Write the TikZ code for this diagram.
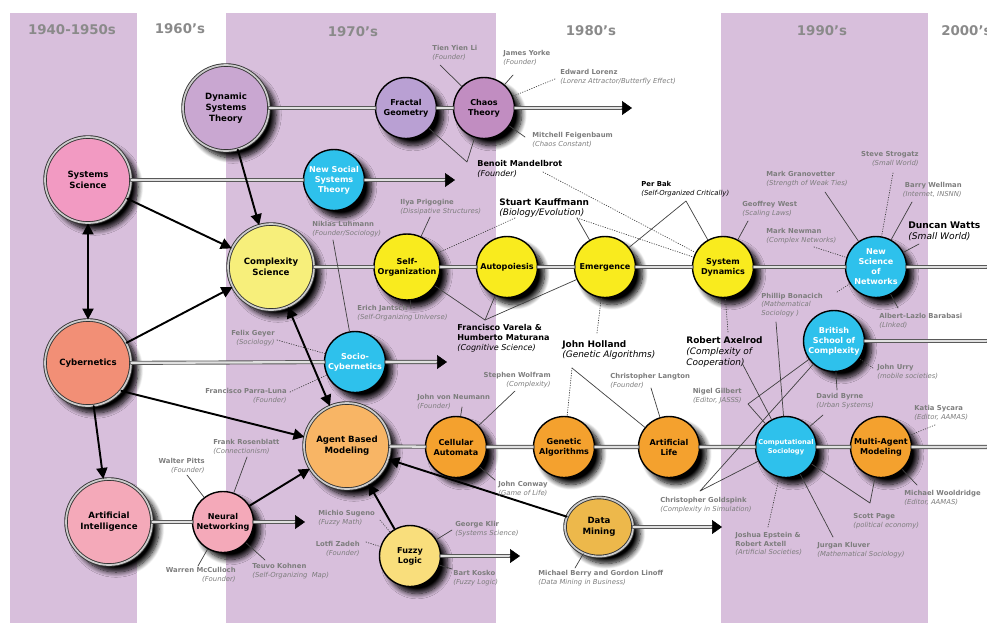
\documentclass[tikz,border=0pt]{standalone}
\usepackage{fontspec}
\setmainfont{DejaVu Sans}
\usepackage{tikz}
\usetikzlibrary{arrows.meta,shapes.geometric,shadows.blur}
\definecolor{band}{HTML}{D8BFDC}
\definecolor{yeargray}{HTML}{8A8A8A}
\definecolor{whogray}{HTML}{7D7D7D}
\definecolor{lilac}{HTML}{C9A7D1}
\definecolor{lavender}{HTML}{B9A0D3}
\definecolor{mauve}{HTML}{C18DC1}
\definecolor{rosepink}{HTML}{F29AC2}
\definecolor{salmon}{HTML}{F28F76}
\definecolor{softpink}{HTML}{F4A9B9}
\definecolor{paleyellow}{HTML}{F7EF7B}
\definecolor{lemon}{HTML}{F9EB1E}
\definecolor{skycyan}{HTML}{2EC1EC}
\definecolor{apricot}{HTML}{F8B565}
\definecolor{amber}{HTML}{F4A12E}
\definecolor{mustard}{HTML}{EDB84B}
\definecolor{sand}{HTML}{F9DE7C}
\newcommand{\pname}[2]{\textbf{#1}\\\textit{#2}}
\tikzset{
    every picture/.style={line cap=round,line join=round},
    smallnode/.style={circle,draw=black,line width=0.8pt,inner sep=0pt,align=center,
      minimum size=12.2mm,font=\fontsize{4.6}{5.7}\selectfont\bfseries,
      blur shadow={shadow xshift=4pt,shadow yshift=-4pt,shadow blur radius=3pt,
        shadow blur steps=10,shadow opacity=100}},
    bignode/.style={smallnode,minimum size=17.2mm,draw=black!80,line width=0.5pt,
      double=black!20,double distance=1pt,font=\fontsize{4.9}{6.1}\selectfont\bfseries},
    cyannode/.style={smallnode,fill=skycyan,text=white},
    yearlab/.style={text=yeargray,font=\fontsize{7.6}{9}\selectfont\bfseries},
    who/.style={inner sep=0pt,align=left,text=whogray,font=\fontsize{3.9}{4.8}\selectfont},
    bigwho/.style={who,text=black,font=\fontsize{4.6}{5.6}\selectfont},
    topwho/.style={who,text=black,font=\fontsize{5.1}{6}\selectfont},
    wholine/.style={line width=0.4pt,draw=black!75},
    whodots/.style={wholine,densely dotted},
    tline/.style={draw=black!65,line width=0.5pt,double=black!12,double distance=1.3pt,
      shorten >=1.5mm},
    tlhead/.style={-{Triangle[length=2mm,width=2.8mm]},line width=0.3pt},
    flow/.style={line width=1.1pt}
}

\begin{document}
\begin{tikzpicture}[x=0.02cm,y=-0.02cm,>={Triangle[length=2.2mm,width=2.2mm]}]
  \useasboundingbox (0,0) rectangle (987,623);
  \clip (0,0) rectangle (987,623);
  % decade bands
  \fill[band] (10,13) rectangle (137,623);
  \fill[band] (226,13) rectangle (496,623);
  \fill[band] (721,13) rectangle (928,623);
  \node[yearlab] (y40) at (72,30) {1940-1950s};
  \node[yearlab] (y60) at (180,29) {1960's};
  \node[yearlab] (y70) at (353,32) {1970's};
  \node[yearlab] (y80) at (591,31) {1980's};
  \node[yearlab] (y90) at (822,31) {1990's};
  \node[yearlab,anchor=west,inner sep=0pt] (y00) at (941,31) {2000's};

  % topics
  \node[bignode,fill=lilac] (dst) at (226,108) {Dynamic\\Systems\\Theory};
  \node[smallnode,fill=lavender] (frac) at (406,108) {Fractal\\Geometry};
  \node[smallnode,fill=mauve] (chaos) at (484,108) {Chaos\\Theory};
  \node[bignode,fill=rosepink] (sys) at (88,180) {Systems\\Science};
  \node[cyannode] (nsst) at (334,180) {New Social\\Systems\\Theory};
  \node[bignode,fill=paleyellow] (cplx) at (271,267) {Complexity\\Science};
  \node[smallnode,fill=lemon,minimum size=13.2mm] (selforg) at (407,267) {Self-\\Organization};
  \node[smallnode,fill=lemon] (autop) at (507,267) {Autopoiesis};
  \node[smallnode,fill=lemon] (emerg) at (605,267) {Emergence};
  \node[smallnode,fill=lemon] (sdyn) at (723,267) {System\\Dynamics};
  \node[cyannode] (nsn) at (876,267) {New\\Science\\of\\Networks};
  \node[bignode,fill=salmon] (cyb) at (88,363) {Cybernetics};
  \node[cyannode] (socyb) at (355,362) {Socio-\\Cybernetics};
  \node[cyannode] (bsc) at (834,341) {British\\School of\\Complexity};
  \node[bignode,fill=apricot] (abm) at (347,446) {Agent Based\\Modeling};
  \node[smallnode,fill=amber] (ca) at (456,447) {Cellular\\Automata};
  \node[smallnode,fill=amber] (ga) at (564,447) {Genetic\\Algorithms};
  \node[smallnode,fill=amber] (alife) at (669,447) {Artificial\\Life};
  \node[cyannode,font=\fontsize{3.8}{5}\selectfont\bfseries] (csoc) at (786,447) {Computational\\Sociology};
  \node[smallnode,fill=amber] (mam) at (881,447) {Multi-Agent\\Modeling};
  \node[bignode,fill=softpink] (ai) at (109,522) {Artificial\\Intelligence};
  \node[smallnode,fill=softpink] (nn) at (223,522) {Neural\\Networking};
  \node[smallnode,fill=sand] (fuzzy) at (410,556) {Fuzzy\\Logic};
  \node[bignode,ellipse,fill=mustard,minimum width=13.6mm,minimum height=11.8mm] (dm) at (599,527) {Data\\Mining};

  % timelines
  \coordinate (e1) at (632,108);
  \coordinate (e2) at (455,180);
  \coordinate (e3) at (997,267);
  \coordinate (e4) at (447,362);
  \coordinate (e5) at (997,341);
  \coordinate (e6) at (997,447);
  \coordinate (e7) at (305,522);
  \coordinate (e8) at (520,556);
  \coordinate (e9) at (722,527);
  \draw[tline] (dst) -- (frac) -- (chaos) -- (e1);
  \draw[tline] (sys) -- (nsst) -- (e2);
  \draw[tline] (cplx) -- (selforg) -- (autop) -- (emerg) -- (sdyn) -- (nsn) -- (e3);
  \draw[tline] (cyb) -- (socyb) -- (e4);
  \draw[tline] (bsc) -- (e5);
  \draw[tline] (abm) -- (ca) -- (ga) -- (alife) -- (csoc) -- (mam) -- (e6);
  \draw[tline] (ai) -- (nn) -- (e7);
  \draw[tline] (fuzzy) -- (e8);
  \draw[tline] (dm) -- (e9);
  \foreach \e in {e1,e2,e3,e4,e5,e6,e7,e8,e9}
    \draw[tlhead] ([xshift=-2mm]\e) -- (\e);

  % influences
  \draw[flow,->] (dst) -- (cplx);
  \draw[flow,->] (sys) -- (cplx);
  \draw[flow,<->] (sys) -- (cyb);
  \draw[flow,->] (cyb) -- (cplx);
  \draw[flow,->] (cyb.-40) -- (abm.168);
  \draw[flow,->] (cyb) -- (ai);
  \draw[flow,<->] (cplx) -- (abm);
  \draw[flow,->] (nn) -- (abm);
  \draw[flow,->] (fuzzy) -- (abm);
  \draw[flow,->] (dm) -- (abm);

  % people: chaos and fractals
  \node[who,anchor=west] (li) at (432,53) {\pname{Tien Yien Li}{(Founder)}};
  \node[who,anchor=west] (yorke) at (503,58) {\pname{James Yorke}{(Founder)}};
  \node[who,anchor=west] (lorenz) at (560,77) {\pname{Edward Lorenz}{(Lorenz Attractor/Butterfly Effect)}};
  \node[who,anchor=west] (feig) at (532,140) {\pname{Mitchell Feigenbaum}{(Chaos Constant)}};
  \node[bigwho,anchor=west] (mandel) at (477,169) {\pname{Benoit Mandelbrot}{(Founder)}};
  \coordinate (li-p) at (440,65);
  \coordinate (yorke-p) at (513,75);
  \coordinate (lorenz-p) at (555,79);
  \coordinate (feig-p) at (525,137);
  \coordinate (mandel-v) at (467,162);
  \coordinate (mandel-p) at (543,172);
  \draw[wholine] (li-p) -- (chaos);
  \draw[wholine] (yorke-p) -- (chaos);
  \draw[whodots] (lorenz-p) -- (chaos);
  \draw[wholine] (feig-p) -- (chaos);
  \draw[wholine] (frac) -- (mandel-v) -- (chaos);
  \draw[whodots] (mandel-p) -- (sdyn);

  % people: self-organization row
  \node[who,anchor=west] (prig) at (400,207) {\pname{Ilya Prigogine}{(Dissipative Structures)}};
  \node[who,anchor=west] (luhm) at (312,229) {\pname{Niklas Luhmann}{(Founder/Sociology)}};
  \node[who,anchor=west] (jant) at (357,313) {\pname{Erich Jantsch}{(Self-Organizing Universe)}};
  \node[topwho,anchor=west] (kauff) at (499,208) {\pname{Stuart Kauffmann}{(Biology/Evolution)}};
  \node[who,text=black,anchor=west] (bak) at (641,189) {\pname{Per Bak}{(Self-Organized Critically)}};
  \node[bigwho,anchor=west] (varela) at (457,338) {\textbf{Francisco Varela \&}\\\textbf{Humberto Maturana}\\\textit{(Cognitive Science)}};
  \node[topwho,anchor=west] (holland) at (562,350) {\pname{John Holland}{(Genetic Algorithms)}};
  \node[topwho,anchor=west] (axel) at (686,352) {\textbf{Robert Axelrod}\\\textit{(Complexity of}\\\textit{Cooperation)}};
  \node[who,anchor=west] (west) at (742,209) {\pname{Geoffrey West}{(Scaling Laws)}};
  \coordinate (prig-p) at (430,217);
  \coordinate (luhm-p) at (333,240);
  \coordinate (jant-p) at (411,309);
  \coordinate (kauff-p) at (515,218);
  \coordinate (kauff-q) at (577,218);
  \coordinate (bak-v) at (686,201);
  \coordinate (varela-v) at (485,320);
  \coordinate (holland-v) at (572,368);
  \coordinate (holland-p) at (597,333);
  \coordinate (axel-p) at (728,332);
  \coordinate (axel-q) at (742,363);
  \coordinate (west-p) at (748,221);
  \draw[wholine] (prig-p) -- (selforg);
  \draw[wholine] (luhm-p) -- (socyb);
  \draw[wholine] (jant-p) -- (selforg);
  \draw[whodots] (kauff-p) -- (selforg);
  \draw[wholine] (kauff-q) -- (emerg);
  \draw[whodots] (kauff-q) -- (sdyn);
  \draw[wholine] (emerg) -- (bak-v) -- (sdyn);
  \draw[wholine] (selforg) -- (varela-v) -- (emerg);
  \draw[wholine] (varela-v) -- (autop);
  \draw[whodots] (holland-v) -- (ga);
  \draw[wholine] (holland-v) -- (alife);
  \draw[whodots] (holland-p) -- (emerg);
  \draw[whodots] (axel-p) -- (sdyn);
  \draw[wholine] (axel-q) -- (csoc);
  \draw[wholine] (west-p) -- (sdyn);

  % people: networks
  \node[who,anchor=west] (gran) at (766,179) {\pname{Mark Granovetter}{(Strength of Weak Ties)}};
  \node[who,anchor=east,align=right] (strog) at (919,159) {\pname{Steve Strogatz}{(Small World)}};
  \node[who,anchor=east,align=right] (wellm) at (962,190) {\pname{Barry Wellman}{(Internet, INSNN)}};
  \node[who,text=black,anchor=west,font=\fontsize{5.2}{6.4}\selectfont] (watts) at (908,231) {\pname{Duncan Watts}{(Small World)}};
  \node[who,anchor=west] (newman) at (766,236) {\pname{Mark Newman}{(Complex Networks)}};
  \node[who,anchor=west] (bonac) at (761,305) {\textbf{Phillip Bonacich}\\\textit{(Mathematical}\\\textit{Sociology )}};
  \node[who,anchor=west] (barab) at (879,321) {\pname{Albert-Lazlo Barabasi}{(LInked)}};
  \node[who,anchor=west] (urry) at (877,372) {\pname{John Urry}{(mobile societies)}};
  \node[who,anchor=west] (byrne) at (816,401) {\pname{David Byrne}{(Urban Systems)}};
  \coordinate (gran-p) at (825,192);
  \coordinate (strog-p) at (893,173);
  \coordinate (wellm-p) at (912,202);
  \coordinate (watts-p) at (919,244);
  \coordinate (newman-p) at (814,247);
  \coordinate (bonac-p) at (837,292);
  \coordinate (bonac-q) at (776,322);
  \coordinate (barab-p) at (898,308);
  \coordinate (urry-p) at (873,368);
  \coordinate (byrne-p) at (837,390);
  \coordinate (byrne-q) at (823,415);
  \draw[wholine] (gran-p) -- (nsn);
  \draw[whodots] (strog-p) -- (nsn);
  \draw[wholine] (wellm-p) -- (nsn);
  \draw[wholine] (watts-p) -- (nsn);
  \draw[whodots] (newman-p) -- (nsn);
  \draw[whodots] (bonac-p) -- (nsn);
  \draw[wholine] (bonac-q) -- (csoc);
  \draw[wholine] (barab-p) -- (nsn);
  \draw[whodots] (urry-p) -- (bsc);
  \draw[wholine] (byrne-p) -- (bsc);
  \draw[wholine] (byrne-q) -- (csoc);

  % people: agents and computation
  \node[who,anchor=east,align=right] (gilb) at (742,396) {\pname{Nigel Gilbert}{(Editor, JASSS)}};
  \node[who,anchor=west] (golds) at (660,505) {\pname{Christopher Goldspink}{(Complexity in Simulation)}};
  \node[who,anchor=west] (langt) at (610,381) {\pname{Christopher Langton}{(Founder)}};
  \node[who,anchor=east,align=right] (wolfr) at (551,380) {\pname{Stephen Wolfram}{(Complexity)}};
  \node[who,anchor=west] (vneum) at (417,402) {\pname{John von Neumann}{(Founder)}};
  \node[who,anchor=west] (conway) at (498,489) {\pname{John Conway}{(Game of Life)}};
  \node[who,anchor=west] (page) at (853,521) {\pname{Scott Page}{(political economy)}};
  \node[who,anchor=west] (kluver) at (817,550) {\pname{Jurgan Kluver}{(Mathematical Sociology)}};
  \node[who,anchor=west] (epst) at (735,544) {\textbf{Joshua Epstein \&}\\\textbf{Robert Axtell}\\\textit{(Artificial Societies)}};
  \node[who,anchor=west] (woold) at (904,498) {\pname{Michael Wooldridge}{(Editor, AAMAS)}};
  \node[who,anchor=west] (sycara) at (914,413) {\pname{Katia Sycara}{(Editor, AAMAS)}};
  \coordinate (gilb-v) at (748,404);
  \coordinate (golds-v) at (700,491);
  \coordinate (langt-p) at (651,388);
  \coordinate (wolfr-p) at (515,391);
  \coordinate (vneum-p) at (462,407);
  \coordinate (conway-p) at (495,480);
  \coordinate (page-v) at (870,503);
  \coordinate (kluver-p) at (833,537);
  \coordinate (epst-p) at (768,527);
  \coordinate (woold-p) at (917,485);
  \coordinate (sycara-p) at (935,425);
  \draw[wholine] (bsc) -- (gilb-v) -- (csoc);
  \draw[wholine] (bsc) -- (golds-v) -- (csoc);
  \draw[wholine] (langt-p) -- (alife);
  \draw[wholine] (wolfr-p) -- (ca);
  \draw[wholine] (vneum-p) -- (ca);
  \draw[wholine] (conway-p) -- (ca);
  \draw[wholine] (csoc) -- (page-v) -- (mam);
  \draw[wholine] (kluver-p) -- (csoc);
  \draw[whodots] (epst-p) -- (csoc);
  \draw[wholine] (woold-p) -- (mam);
  \draw[whodots] (sycara-p) -- (mam);

  % people: neural nets, fuzzy logic, data mining, socio-cybernetics
  \node[who,anchor=west] (rosen) at (213,447) {\pname{Frank Rosenblatt}{(Connectionism)}};
  \node[who,anchor=east,align=right] (pitts) at (205,466) {\pname{Walter Pitts}{(Founder)}};
  \node[who,anchor=east,align=right] (mccul) at (236,575) {\pname{Warren McCulloch}{(Founder)}};
  \node[who,anchor=west] (kohnen) at (252,571) {\pname{Teuvo Kohnen}{(Self-Organizing\ \ Map)}};
  \node[who,anchor=west] (sugeno) at (318,518) {\pname{Michio Sugeno}{(Fuzzy Math)}};
  \node[who,anchor=east,align=right] (zadeh) at (360,549) {\pname{Lotfi Zadeh}{(Founder)}};
  \node[who,anchor=west] (klir) at (455,529) {\pname{George Klir}{(Systems Science)}};
  \node[who,anchor=west] (kosko) at (453,578) {\pname{Bart Kosko}{(Fuzzy Logic)}};
  \node[who,anchor=west] (berry) at (538,578) {\pname{Michael Berry and Gordon Linoff}{(Data Mining in Business)}};
  \node[who,anchor=east,align=right] (geyer) at (275,338) {\pname{Felix Geyer}{(Sociology)}};
  \node[who,anchor=east,align=right] (parra) at (287,396) {\pname{Francisco Parra-Luna}{(Founder)}};
  \coordinate (rosen-p) at (247,457);
  \coordinate (pitts-p) at (187,475);
  \coordinate (mccul-p) at (198,566);
  \coordinate (kohnen-p) at (265,560);
  \coordinate (sugeno-p) at (380,520);
  \coordinate (zadeh-p) at (366,542);
  \coordinate (klir-p) at (452,530);
  \coordinate (kosko-p) at (452,569);
  \coordinate (berry-p) at (575,568);
  \coordinate (geyer-p) at (277,340);
  \coordinate (parra-p) at (290,392);
  \draw[wholine] (rosen-p) -- (nn);
  \draw[wholine] (pitts-p) -- (nn);
  \draw[wholine] (mccul-p) -- (nn);
  \draw[wholine] (kohnen-p) -- (nn);
  \draw[whodots] (sugeno-p) -- (fuzzy);
  \draw[whodots] (zadeh-p) -- (fuzzy);
  \draw[wholine] (klir-p) -- (fuzzy);
  \draw[wholine] (kosko-p) -- (fuzzy);
  \draw[wholine] (berry-p) -- (dm);
  \draw[whodots] (geyer-p) -- (socyb);
  \draw[whodots] (parra-p) -- (socyb);
\end{tikzpicture}
\end{document}
